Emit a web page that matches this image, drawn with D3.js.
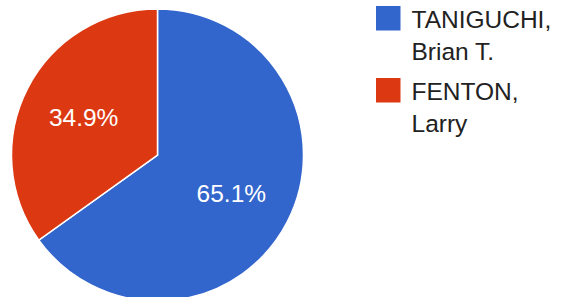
<!DOCTYPE html>
<html>
<head>
<meta charset="utf-8">
<script src="https://cdn.jsdelivr.net/npm/d3@7"></script>
<style>
  html, body { margin: 0; padding: 0; background: #fff; }
  svg { display: block; }
  text { font-family: "Liberation Sans", Arial, sans-serif; }
</style>
</head>
<body>
<svg id="chart" width="567" height="297"></svg>
<script>
const names = ["TANIGUCHI, Brian T.", "FENTON, Larry"];
const legendLines = [["TANIGUCHI,", "Brian T."], ["FENTON,", "Larry"]];
const shares = [65.1, 34.9];
const colors = ["#3366cc", "#dc3912"];

const svg = d3.select("#chart");
const cx = 157.5, cy = 155, r = 146;

const pie = d3.pie().sort(null).value(d => d)(shares);
const arc = d3.arc().innerRadius(0).outerRadius(r);
const labelArc = d3.arc().innerRadius(83).outerRadius(83);

const g = svg.append("g").attr("transform", `translate(${cx},${cy})`);
g.selectAll("path").data(pie).join("path")
  .attr("d", arc)
  .attr("fill", (d, i) => colors[i])
  .attr("stroke", "#fff")
  .attr("stroke-width", 1.5);

g.selectAll("text.lbl").data(pie).join("text")
  .attr("class", "lbl")
  .attr("transform", d => `translate(${labelArc.centroid(d)})`)
  .attr("text-anchor", "middle")
  .attr("dy", "0.36em")
  .attr("fill", "#fff")
  .style("font-size", "24.5px")
  .text(d => d.data.toFixed(1) + "%");

const leg = svg.append("g");
const item = leg.selectAll("g").data(names).join("g")
  .attr("transform", (d, i) => `translate(376,${6 + i * 72})`);
item.append("rect")
  .attr("width", 24.5).attr("height", 24.5)
  .attr("fill", (d, i) => colors[i]);
item.each(function(d, i) {
  const t = d3.select(this).append("text")
    .attr("fill", "#222")
    .style("font-size", "24.5px");
  legendLines[i].forEach((line, j) => {
    t.append("tspan").attr("x", 35.5).attr("y", 21.5 + j * 32.5).text(line);
  });
});
</script>
</body>
</html>
